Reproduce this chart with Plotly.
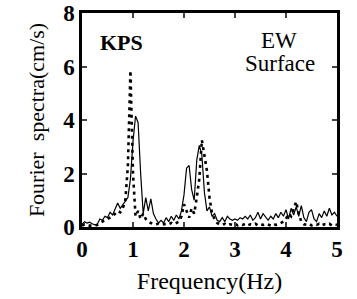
import plotly.graph_objects as go

freq = [round(i * 0.05, 2) for i in range(101)]

solid = [0.10, 0.20, 0.15, 0.18, 0.12, 0.08, 0.10, 0.30, 0.25, 0.40,
         0.35, 0.55, 0.45, 0.70, 0.90, 0.70, 0.85, 1.00, 1.10, 1.80,
         3.20, 4.15, 3.90, 2.00, 0.50, 1.10, 0.60, 1.05, 0.50, 0.30,
         0.15, 0.25, 0.15, 0.35, 0.20, 0.40, 0.25, 0.45, 0.30, 0.60,
         1.20, 2.20, 2.30, 1.40, 1.00, 2.50, 3.05, 2.70, 1.30, 0.60,
         0.75, 0.40, 0.50, 0.25, 0.20, 0.35, 0.20, 0.40, 0.30, 0.25,
         0.30, 0.25, 0.35, 0.30, 0.40, 0.30, 0.45, 0.25, 0.35, 0.55,
         0.30, 0.50, 0.35, 0.25, 0.40, 0.30, 0.50, 0.35, 0.55, 0.40,
         0.65, 0.30, 0.70, 0.45, 0.75, 0.40, 0.80, 0.35, 0.20, 0.55,
         0.65, 0.30, 0.20, 0.50, 0.35, 0.60, 0.40, 0.70, 0.45, 0.55,
         0.40]

dotted = [0.05, 0.10, 0.08, 0.05, 0.05, 0.05, 0.08, 0.15, 0.20, 0.25,
          0.30, 0.35, 0.40, 0.50, 0.60, 0.55, 0.70, 1.00, 2.30, 5.85,
          2.00, 0.40, 0.60, 0.30, 0.50, 0.30, 0.20, 0.15, 0.10, 0.10,
          0.12, 0.08, 0.10, 0.12, 0.10, 0.15, 0.10, 0.15, 0.20, 0.40,
          0.85, 0.60, 0.35, 0.70, 0.50, 1.10, 1.80, 3.25, 2.60, 2.10,
          1.10, 0.50, 0.30, 0.15, 0.10, 0.08, 0.12, 0.06, 0.10, 0.08,
          0.12, 0.06, 0.10, 0.08, 0.12, 0.06, 0.10, 0.08, 0.12, 0.06,
          0.10, 0.08, 0.12, 0.10, 0.06, 0.12, 0.08, 0.10, 0.15, 0.20,
          0.30, 0.50, 0.40, 0.65, 0.95, 0.50, 0.20, 0.10, 0.08, 0.12,
          0.06, 0.10, 0.08, 0.12, 0.06, 0.10, 0.08, 0.12, 0.06, 0.10,
          0.08]

x_ticks = [0, 1, 2, 3, 4, 5]
y_ticks = [0, 2, 4, 6, 8]

SERIF = "Liberation Serif"

fig = go.Figure()
fig.add_trace(go.Scatter(x=freq, y=solid, mode="lines",
                         line=dict(color="black", width=1.2), showlegend=False))
fig.add_trace(go.Scatter(x=freq, y=dotted, mode="lines",
                         line=dict(color="black", width=2.6, dash="3px,4px"), showlegend=False))

fig.update_layout(
    width=357, height=299,
    margin=dict(l=82, r=20, t=13, b=72),
    paper_bgcolor="white", plot_bgcolor="white",
    font=dict(family=SERIF, color="black", size=22),
    xaxis=dict(range=[0, 5], tickvals=x_ticks, ticks="inside", ticklen=5, tickwidth=1.5,
               showline=True, linewidth=2.5, linecolor="black", mirror="ticks",
               showgrid=False, zeroline=False, automargin=False,
               tickfont=dict(family=SERIF, size=23, color="black", weight="bold"),
               title=dict(text="Frequency(Hz)", font=dict(family=SERIF, size=24), standoff=11)),
    yaxis=dict(range=[0, 8], tickvals=y_ticks, ticks="inside", ticklen=5, tickwidth=1.5,
               showline=True, linewidth=2.5, linecolor="black", mirror="ticks",
               showgrid=False, zeroline=False, automargin=False,
               tickfont=dict(family=SERIF, size=23, color="black", weight="bold"),
               title=dict(text="Fourier&nbsp;&nbsp;spectra(cm/s)", font=dict(family=SERIF, size=22), standoff=13)),
    annotations=[
        dict(x=0.77, y=6.88, xref="x", yref="y", text="<b>KPS</b>", showarrow=False,
             font=dict(family=SERIF, size=22)),
        dict(x=3.87, y=6.99, xref="x", yref="y", text="EW", showarrow=False,
             font=dict(family=SERIF, size=23)),
        dict(x=3.88, y=6.13, xref="x", yref="y", text="Surface", showarrow=False,
             font=dict(family=SERIF, size=23)),
    ],
)

fig.write_html("out.html", config={"displayModeBar": False},
               post_script="document.body.style.margin='0';")
